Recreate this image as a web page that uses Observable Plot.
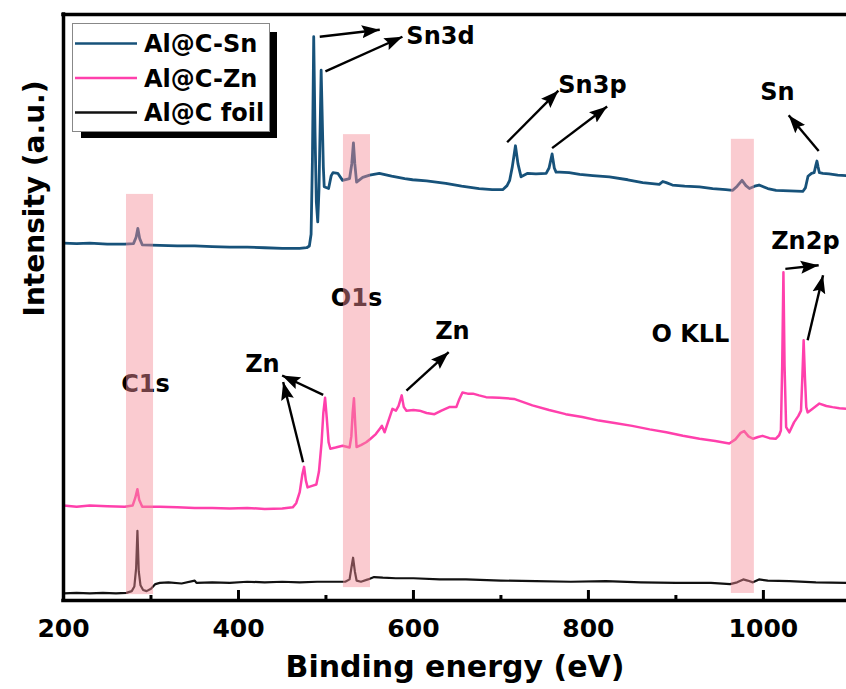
<!DOCTYPE html>
<html><head><meta charset="utf-8">
<script src="https://cdn.jsdelivr.net/npm/d3@7"></script>
<script src="https://cdn.jsdelivr.net/npm/@observablehq/plot@0.6"></script>
<style>
html,body{margin:0;padding:0;background:#fff;}
#wrap{position:relative;width:846px;height:689px;overflow:hidden;}
#legend{position:absolute;left:72px;top:23px;}
</style></head><body><div id="wrap"></div>
<script>
// ---- data ----
const seriesNames = ["Al@C-Sn", "Al@C-Zn", "Al@C foil"];
const seriesColors = ["#17527a", "#ff40ac", "#111111"];
const seriesWidths = [2.8, 2.5, 2.2];

// [binding energy (eV), intensity (a.u., offset)]
const snData = [[200,61.0],[215,60.9],[230,61.0],[250,60.8],[270,60.8],[280,60.9],[283,62.0],[285,63.5],[287,61.8],[290,60.7],[310,60.6],[330,60.5],[350,60.5],[370,60.4],[390,60.3],[410,60.3],[430,60.2],[450,60.1],[470,60.1],[478,60.2],[481,60.5],[483,62.5],[484.5,75],[486,96.2],[487.5,80],[489,68],[490.6,64.6],[492,70],[493.5,82],[494.5,90.5],[495.5,84],[497,74],[498,70.6],[503,70.3],[506,72.5],[508,73.0],[513.5,72.9],[519,71.7],[527,72.0],[529.5,74.5],[531.4,78.1],[533,74.5],[535,71.4],[542,72.2],[550,72.6],[561,72.9],[575,72.4],[590,72.0],[599,71.8],[615,71.6],[637,71.2],[655,70.7],[675,70.3],[690,70.1],[702,70.1],[707,70.8],[710,71.7],[713,74],[716.6,77.6],[719.5,74.5],[723,72.3],[730.6,72.9],[740,72.8],[751.7,72.9],[755,73.8],[758.5,76.2],[761,73.8],[763,73.1],[767,73.1],[778,73.0],[790,72.7],[805,72.5],[824,72.3],[845,71.8],[862,71.3],[881,71.0],[885,71.5],[889,71.3],[896,70.9],[910,70.7],[927,70.6],[942,70.3],[957,70.1],[965,70.0],[970,70.7],[975.6,71.7],[980,70.8],[984,70.3],[990,70.7],[995,70.9],[1005,70.3],[1014.5,70.0],[1030,69.9],[1045,69.8],[1048,70.4],[1051,72.4],[1055,72.9],[1058,73.0],[1060,74.3],[1061.2,75.0],[1062.5,74.0],[1064,73.0],[1068,72.9],[1075,72.8],[1085,72.6],[1095,72.5]];

const znData = [[200,16.2],[215,16.0],[230,16.2],[250,16.1],[270,16.0],[279,16.2],[282,17.5],[284.5,19.0],[286.5,17.2],[290,16.0],[310,16.0],[330,15.9],[350,15.8],[370,15.8],[390,15.7],[410,15.8],[430,15.6],[450,15.7],[462,15.9],[466,16.6],[470,18.5],[473,21.5],[475,22.8],[477,20.5],[479,19.3],[485,19.6],[489,19.8],[492,22],[495,27],[497,32],[499,34.6],[501,31],[503,27],[505,25.9],[511,26.1],[519,26.4],[527,26.1],[529,28],[530.5,32],[532,34.5],[533.5,30],[535,26.2],[540,26.5],[546,27.0],[551,27.6],[557,28.4],[562,29.4],[564,29.8],[567,28.7],[571,30.5],[576,32.7],[580,32.4],[583,33.2],[586.6,35.0],[589,33],[592,32.4],[600,32.5],[607,32.4],[615,32.0],[624,31.8],[632,32.4],[641,33.0],[649,33.0],[652,34.2],[656,35.5],[662,35.3],[668,35.3],[675,35.0],[683,34.7],[698,34.6],[715,34.4],[736,33.3],[755,32.5],[774,31.8],[793,31.3],[812,30.7],[830,30.3],[850,29.8],[870,29.2],[889,28.7],[908,28.1],[927,27.6],[945,27.2],[961,26.8],[968,27.5],[974,28.6],[978,28.9],[983,28.0],[988,27.6],[994,27.9],[999,28.1],[1007,27.7],[1014,27.6],[1018,28.2],[1020,29.0],[1021.5,40],[1022.9,56.0],[1024.2,40],[1026,29.6],[1029.7,28.7],[1035,30.4],[1040,31.5],[1043,32.4],[1044.5,38],[1046,44.4],[1047.5,38],[1049,33],[1050.6,32.1],[1057,32.8],[1064,33.6],[1072,33.2],[1079,33.0],[1087,32.8],[1095,32.7]];

const foilData = [[200,1.2],[215,1.3],[230,1.2],[245,1.3],[260,1.2],[272,1.3],[278,1.6],[281,2.4],[283,5.5],[284.5,11.9],[286,5],[288,2.6],[291,1.8],[295,1.6],[300,2.0],[305,2.8],[310,3.0],[320,3.1],[335,2.9],[350,3.4],[352,3.0],[370,3.1],[390,3.0],[410,3.2],[430,3.1],[450,3.2],[470,3.1],[490,3.2],[510,3.2],[522,3.2],[527,3.6],[529,5.5],[531,7.3],[533,5],[535,3.4],[540,3.2],[548,3.6],[555,4.0],[565,3.9],[580,3.8],[600,3.8],[630,3.6],[660,3.6],[700,3.4],[740,3.3],[780,3.2],[820,3.3],[860,3.1],[900,3.0],[940,3.0],[962,2.8],[970,3.1],[977,3.6],[982,3.4],[988,3.1],[995,3.6],[1005,3.4],[1030,3.3],[1060,3.1],[1095,3.0]];

const majorTicks = [200, 400, 600, 800, 1000];
const minorTicks = [300, 500, 700, 900];

// highlighted regions: [x1, x2, y1, y2]
const bandX1 = [272, 520, 963.4];
const bandX2 = [302.9, 550.9, 989.7];
const bandY1 = [1.0, 2.2, 1.2];
const bandY2 = [69.3, 79.5, 78.7];

// peak labels
const labelText = ["Sn3d", "Sn3p", "Sn", "O1s", "C1s", "Zn", "Zn", "O KLL", "Zn2p"];
const labelX = [630.9, 804.6, 1016, 534.9, 293.7, 427.4, 644.6, 916.6, 1048];
const labelY = [96.2, 87.9, 86.7, 51.5, 36.9, 40.3, 45.9, 45.4, 61.3];

// annotation arrows: start (x1,y1) -> end (x2,y2)
const arrowX1 = [492.9, 499.4, 707.1, 758.5, 1063.2, 473.9, 496.8, 592, 1025.1, 1050.6];
const arrowY1 = [96.2, 90.3, 78.2, 77.2, 76.7, 23.6, 35.1, 35.8, 56.6, 44.4];
const arrowX2 = [561.5, 587.4, 765.7, 821.4, 1028.9, 451.1, 449.9, 640.3, 1063.2, 1068.2];
const arrowY2 = [97.4, 96.2, 87.0, 84.3, 82.8, 37.3, 38.4, 42.4, 57.2, 55.5];

// ---- build ----
const bands = bandX1.map((d, i) => ({x1: d, x2: bandX2[i], y1: bandY1[i], y2: bandY2[i]}));
const labels = labelText.map((t, i) => ({t, x: labelX[i], y: labelY[i]}));
const arrows = arrowX1.map((d, i) => ({x1: d, y1: arrowY1[i], x2: arrowX2[i], y2: arrowY2[i]}));
const seriesData = [snData, znData, foilData];

const FONT = "DejaVu Sans";

function filledArrow(color, context) {
  const doc = (context && context.document) || document;
  const ns = "http://www.w3.org/2000/svg";
  const m = doc.createElementNS(ns, "marker");
  m.setAttribute("viewBox", "-18 -7 18 14");
  m.setAttribute("markerWidth", "18");
  m.setAttribute("markerHeight", "14");
  m.setAttribute("markerUnits", "userSpaceOnUse");
  m.setAttribute("refX", "0");
  m.setAttribute("refY", "0");
  m.setAttribute("orient", "auto");
  const p = doc.createElementNS(ns, "path");
  p.setAttribute("d", "M-18,-6.5L0,0L-18,6.5L-15,0Z");
  p.setAttribute("fill", "#000");
  p.setAttribute("stroke", "none");
  m.appendChild(p);
  return m;
}

function build(marker) {
  return Plot.plot({
    width: 846, height: 689,
    marginLeft: 63, marginRight: 0, marginTop: 14, marginBottom: 89,
    style: {fontFamily: FONT, fontSize: "25px", fontWeight: "bold", background: "#fff", color: "#000"},
    x: {domain: [200, 1095], axis: null},
    y: {domain: [0, 100], axis: null},
    marks: [
      ...seriesData.map((arr, i) =>
        Plot.line(arr, {x: d => d[0], y: d => d[1], stroke: seriesColors[i], strokeWidth: seriesWidths[i], strokeLinejoin: "round"})
      ).reverse(),
      Plot.text(labels, {x: "x", y: "y", text: "t", fontSize: 24, fontWeight: "bold", fontFamily: FONT, fill: "#000"}),
      Plot.rect(bands, {x1: "x1", x2: "x2", y1: "y1", y2: "y2", fill: "rgb(245,140,150)", fillOpacity: 0.45}),
      Plot.link(arrows, {x1: "x1", y1: "y1", x2: "x2", y2: "y2", stroke: "#000", strokeWidth: 2.4, markerEnd: marker}),
      Plot.ruleX(majorTicks, {y1: 0, y2: 0, insetBottom: 10, strokeWidth: 3, stroke: "#000"}),
      Plot.ruleX(minorTicks, {y1: 0, y2: 0, insetBottom: 5, strokeWidth: 3, stroke: "#000"}),
      Plot.ruleY([0, 100], {strokeWidth: 3.5, stroke: "#000", strokeLinecap: "square"}),
      Plot.ruleX([200], {strokeWidth: 3.5, stroke: "#000", strokeLinecap: "square"}),
      Plot.axisX({ticks: majorTicks, tickSize: 0, tickPadding: 19, tickFormat: d => String(d), label: null, fontSize: 25, fontWeight: "bold"}),
      Plot.text(["Binding energy (eV)"], {frameAnchor: "bottom", dy: 67, lineAnchor: "middle", fontSize: 30, fontWeight: "bold", fontFamily: FONT, fill: "#000"}),
      Plot.text(["Intensity (a.u.)"], {frameAnchor: "left", dx: -28, dy: 9, rotate: -90, lineAnchor: "middle", fontSize: 28, fontWeight: "bold", fontFamily: FONT, fill: "#000"})
    ]
  });
}

let chart;
try { chart = build(filledArrow); } catch (e) { chart = build("arrow"); }
const wrap = document.getElementById("wrap");
wrap.appendChild(chart);

// legend (drawn as inline SVG over the plot)
const ns = "http://www.w3.org/2000/svg";
const lg = document.createElementNS(ns, "svg");
lg.setAttribute("id", "legend");
lg.setAttribute("width", "210");
lg.setAttribute("height", "120");
let html = '<rect x="9" y="9" width="196" height="106" fill="#000"/>' +
  '<rect x="0.5" y="0.5" width="197" height="108" fill="#fff" stroke="#888" stroke-width="1"/>';
const rowY = [20.5, 55, 89.5];
seriesNames.forEach((name, i) => {
  html += `<line x1="3" x2="65" y1="${rowY[i]}" y2="${rowY[i]}" stroke="${seriesColors[i]}" stroke-width="2.5"/>`;
  html += `<text x="72" y="${rowY[i] + 8.7}" font-family="${FONT}" font-weight="bold" font-size="24" fill="#000">${name}</text>`;
});
lg.innerHTML = html;
wrap.appendChild(lg);
</script></body></html>
